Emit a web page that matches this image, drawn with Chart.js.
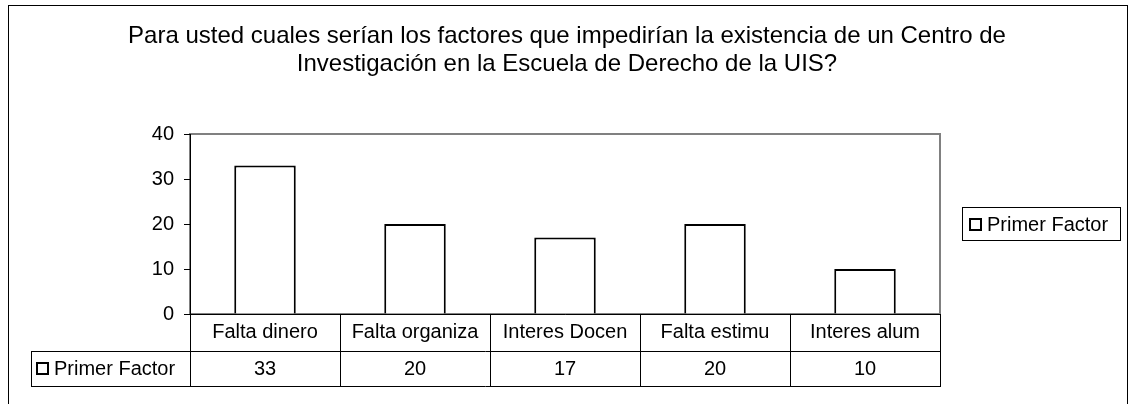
<!DOCTYPE html>
<html>
<head>
<meta charset="utf-8">
<script src="https://cdn.jsdelivr.net/npm/chart.js@4/dist/chart.umd.min.js"></script>
<style>
  html, body { margin: 0; padding: 0; background: #fff; }
  #wrap { width: 1129px; height: 404px; }
</style>
</head>
<body>
<div id="wrap"><canvas id="factores" width="1129" height="404"></canvas></div>
<script>
// data
const categories = ['Falta dinero', 'Falta organiza', 'Interes Docen', 'Falta estimu', 'Interes alum'];
const primerFactor = [33, 20, 17, 20, 10];
const seriesName = 'Primer Factor';
const yTicks = [0, 10, 20, 30, 40];
const titleLines = [
  'Para usted cuales serían los factores que impedirían la existencia de un Centro de',
  'Investigación en la Escuela de Derecho de la UIS?'
];

const FONT = 'Liberation Sans, Arial, sans-serif';
const SMALL = 20;

// draws the frame, title, legend box and the data table under the axis
const excelFrame = {
  id: 'excelFrame',
  beforeDraw(chart) {
    const c = chart.ctx;
    const a = chart.chartArea;
    c.save();
    c.fillStyle = '#fff';
    c.fillRect(0, 0, chart.width, chart.height);
    // outer border
    c.strokeStyle = '#000';
    c.lineWidth = 1;
    c.strokeRect(8.5, 5.5, 1119, 420);
    // plot area border (gray)
    c.strokeStyle = '#808080';
    c.lineWidth = 2;
    c.strokeRect(a.left, a.top, a.right - a.left, a.bottom - a.top);
    // title
    c.fillStyle = '#000';
    c.font = '24px ' + FONT;
    c.textAlign = 'center';
    c.textBaseline = 'alphabetic';
    c.fillText(titleLines[0], 567, 43);
    c.fillText(titleLines[1], 567, 71);
    c.restore();
  },
  afterDraw(chart) {
    const c = chart.ctx;
    const a = chart.chartArea;
    const x = chart.scales.x;
    const n = categories.length;
    const colW = (a.right - a.left) / n;
    const rowTop = a.bottom, row1 = 351, row2 = 386, labelLeft = 31;
    c.save();
    c.strokeStyle = '#000';
    c.lineWidth = 1;
    c.beginPath();
    c.moveTo(labelLeft, row1 + 0.5); c.lineTo(a.right, row1 + 0.5);
    c.moveTo(labelLeft, row2 + 0.5); c.lineTo(a.right, row2 + 0.5);
    c.moveTo(labelLeft + 0.5, row1); c.lineTo(labelLeft + 0.5, row2 + 1);
    for (let i = 0; i <= n; i++) {
      const px = Math.round(a.left + i * colW) + 0.5;
      c.moveTo(px, rowTop); c.lineTo(px, row2 + 1);
    }
    c.stroke();

    // series row
    c.fillStyle = '#000';
    c.font = SMALL + 'px ' + FONT;
    c.textBaseline = 'middle';
    c.textAlign = 'center';
    primerFactor.forEach((v, i) => {
      c.fillText(String(v), x.getPixelForValue(i), (row1 + row2) / 2 + 1);
    });
    c.lineWidth = 2;
    c.strokeRect(37, 363, 11, 11);
    c.textAlign = 'left';
    c.fillText(seriesName, 54, (row1 + row2) / 2 + 1);

    // legend box
    c.lineWidth = 1;
    c.strokeRect(962.5, 207.5, 158, 33);
    c.lineWidth = 2;
    c.strokeRect(970, 219, 11, 11);
    c.fillText(seriesName, 987, 225);
    c.restore();
  }
};

new Chart(document.getElementById('factores'), {
  type: 'bar',
  data: {
    labels: categories,
    datasets: [{
      label: seriesName,
      data: primerFactor,
      backgroundColor: '#fff',
      borderColor: '#000',
      borderWidth: 2,
      borderSkipped: 'start',
      categoryPercentage: 1,
      barPercentage: 0.41
    }]
  },
  options: {
    responsive: false,
    animation: false,
    layout: { padding: { left: 130, right: 189, top: 134, bottom: 54 } },
    plugins: {
      legend: { display: false },
      title: { display: false },
      tooltip: { enabled: false }
    },
    scales: {
      y: {
        min: 0,
        max: 40,
        afterBuildTicks: s => { s.ticks = yTicks.map(v => ({ value: v })); },
        afterFit: s => { s.width = 60; },
        ticks: { color: '#000', font: { family: FONT, size: SMALL }, padding: 10 },
        grid: { drawOnChartArea: false, drawTicks: true, tickLength: 6, color: '#000' },
        border: { display: true, color: '#000', width: 1 }
      },
      x: {
        afterFit: s => { s.height = 36; },
        ticks: { color: '#000', font: { family: FONT, size: SMALL }, padding: 6, maxRotation: 0, autoSkip: false },
        grid: { display: false, drawTicks: false },
        border: { display: true, color: '#000', width: 1 }
      }
    }
  },
  plugins: [excelFrame]
});
</script>
</body>
</html>
